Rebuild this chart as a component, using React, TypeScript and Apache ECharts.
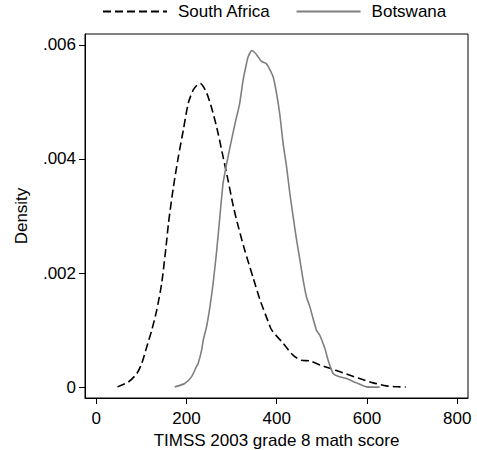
import React, { useEffect, useRef } from "react";
import * as echarts from "echarts";

const seriesNames = ["South Africa", "Botswana"];

// [score, density]
const southAfrica: [number, number][] = [
  [47, 0.000005], [71, 0.00009], [90, 0.00024], [101, 0.00042], [112, 0.00071],
  [123, 0.001], [134, 0.00135], [145, 0.00182], [155, 0.00249], [160, 0.00287],
  [171, 0.00351], [182, 0.00404], [193, 0.00451], [204, 0.00498], [215, 0.00521],
  [224, 0.0053], [231, 0.00532], [245, 0.00515], [259, 0.0048], [270, 0.00445],
  [281, 0.00404], [292, 0.00363], [304, 0.00316], [315, 0.00281], [328, 0.00243],
  [348, 0.00191], [363, 0.00153], [381, 0.00115], [389, 0.001], [414, 0.00077],
  [436, 0.00056], [455, 0.00047], [473, 0.00046], [496, 0.00039], [518, 0.00033],
  [547, 0.00025], [584, 0.00015], [614, 0.000075], [643, 0.000023], [673, 0.000005],
  [686, 0.000003],
];

const botswana: [number, number][] = [
  [174, 0.000005], [196, 0.000065], [211, 0.00018], [222, 0.00036], [226, 0.00042],
  [233.5, 0.00065], [237, 0.00082], [244.5, 0.00106], [252, 0.00141], [259, 0.00182],
  [267, 0.0024], [274, 0.00299], [281, 0.00357], [289, 0.00392], [296, 0.00419],
  [307, 0.0046], [318, 0.00498], [325.6, 0.00539], [331.6, 0.00562], [336.7, 0.00579],
  [345, 0.0059], [355, 0.00583], [366, 0.00571], [377, 0.00567], [385, 0.00556],
  [392, 0.00544], [399.6, 0.00515], [407, 0.00477], [414, 0.00428], [421.7, 0.00387],
  [429, 0.0034], [436.4, 0.00299], [444, 0.00258], [451, 0.00225], [458.5, 0.00188],
  [466, 0.00158], [473, 0.00142], [488, 0.001], [495.5, 0.00091], [506.6, 0.00068],
  [514, 0.00047], [525, 0.00024], [536, 0.00019], [554.6, 0.00015], [576.8, 0.000075],
  [599, 0.000005], [628, 0.0],
];

const xTicks = [0, 200, 400, 600, 800];
const yTicks = [0, 0.002, 0.004, 0.006];
const yTickLabels = ["0", ".002", ".004", ".006"];

const xTitle = "TIMSS 2003 grade 8 math score";
const yTitle = "Density";

const FONT = "'Liberation Sans', Arial, Helvetica, sans-serif";

export default function App() {
  const ref = useRef<HTMLDivElement>(null);
  useEffect(() => {
    if (!ref.current) return;
    const chart = echarts.init(ref.current, null, { renderer: "svg" });
    chart.setOption({
      animation: false,
      backgroundColor: "#fff",
      textStyle: { fontFamily: FONT },
      legend: {
        left: 102,
        top: 3,
        padding: 0,
        itemWidth: 64,
        itemHeight: 20,
        itemGap: 25,
        itemStyle: { opacity: 0 },
        textStyle: { fontSize: 17, color: "#000", fontFamily: FONT, padding: [0, 0, 0, 6] },
        data: seriesNames,
      },
      grid: {
        left: 85,
        right: 9,
        top: 34,
        bottom: 52,
        show: true,
        borderColor: "#000",
        borderWidth: 1,
        containLabel: false,
        outerBoundsMode: "none",
      },
      xAxis: {
        type: "value",
        min: -25,
        max: 824,
        name: xTitle,
        nameLocation: "middle",
        nameGap: 24,
        nameTextStyle: { fontSize: 17, color: "#000", fontFamily: FONT },
        axisLine: { show: true, onZero: false, lineStyle: { color: "#000", width: 1 } },
        axisTick: { show: true, length: 6, lineStyle: { color: "#000" }, customValues: xTicks },
        axisLabel: {
          fontSize: 17,
          color: "#000",
          margin: 12,
          fontFamily: FONT,
          customValues: xTicks,
        },
        splitLine: { show: false },
      },
      yAxis: {
        type: "value",
        min: -0.00019,
        max: 0.00619,
        name: yTitle,
        nameLocation: "middle",
        nameGap: 55,
        nameRotate: 90,
        nameTextStyle: { fontSize: 17, color: "#000", fontFamily: FONT },
        axisLine: { show: true, onZero: false, lineStyle: { color: "#000", width: 1 } },
        axisTick: { show: true, length: 6, lineStyle: { color: "#000" }, customValues: yTicks },
        axisLabel: {
          fontSize: 17,
          color: "#000",
          margin: 9,
          fontFamily: FONT,
          customValues: yTicks,
          formatter: (v: number) => {
            const i = yTicks.findIndex((t) => Math.abs(t - v) < 1e-9);
            return i >= 0 ? yTickLabels[i] : "";
          },
        },
        splitLine: { show: false },
      },
      series: [
        {
          name: seriesNames[0],
          type: "line",
          data: southAfrica,
          showSymbol: false,
          symbol: "none",
          smooth: 0.25,
          lineStyle: { color: "#000", width: 1.6, type: [8, 4] },
          itemStyle: { color: "#000" },
        },
        {
          name: seriesNames[1],
          type: "line",
          data: botswana,
          showSymbol: false,
          symbol: "none",
          smooth: 0.2,
          lineStyle: { color: "#7f7f7f", width: 1.6, type: "solid" },
          itemStyle: { color: "#7f7f7f" },
        },
      ],
    });
    return () => chart.dispose();
  }, []);
  return <div ref={ref} style={{ width: 477, height: 450, position: "absolute", left: 0, top: 0 }} />;
}
